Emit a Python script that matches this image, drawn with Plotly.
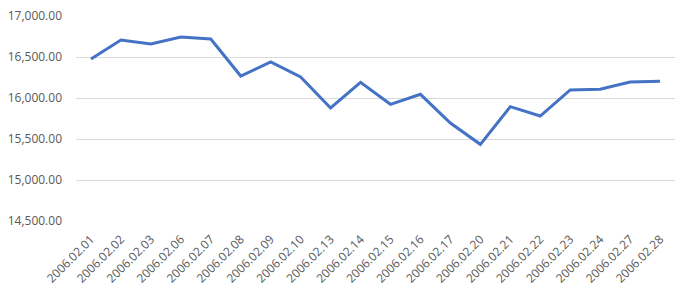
import plotly.graph_objects as go

dates = ["2006.02.01", "2006.02.02", "2006.02.03", "2006.02.06", "2006.02.07",
         "2006.02.08", "2006.02.09", "2006.02.10", "2006.02.13", "2006.02.14",
         "2006.02.15", "2006.02.16", "2006.02.17", "2006.02.20", "2006.02.21",
         "2006.02.22", "2006.02.23", "2006.02.24", "2006.02.27", "2006.02.28"]
values = [16475, 16707, 16659, 16744, 16720,
          16268, 16439, 16256, 15878, 16191,
          15923, 16045, 15695, 15435, 15894,
          15780, 16098, 16106, 16195, 16204]

fig = go.Figure()
fig.add_trace(go.Scatter(x=dates, y=values, mode="lines",
                         line=dict(color="#4472C4", width=3)))

fig.update_layout(
    width=681, height=293,
    margin=dict(l=76, r=6, t=16, b=72),
    paper_bgcolor="white", plot_bgcolor="white",
    showlegend=False,
    font=dict(family="Open Sans", size=12, color="#595959"),
)
fig.update_xaxes(type="category", range=[-0.5, len(dates) - 0.5],
                 tickangle=-45, showgrid=False, showline=False, ticks="",
                 ticklabelstandoff=8,
                 tickfont=dict(size=12, color="#595959"))
fig.update_yaxes(range=[14500, 17000], dtick=500, tickformat=",.2f",
                 showgrid=True, gridcolor="#D9D9D9", gridwidth=1,
                 zeroline=False, showline=False, ticks="",
                 ticklabelstandoff=13,
                 tickfont=dict(size=12, color="#595959"))

fig.write_html("out.html")
